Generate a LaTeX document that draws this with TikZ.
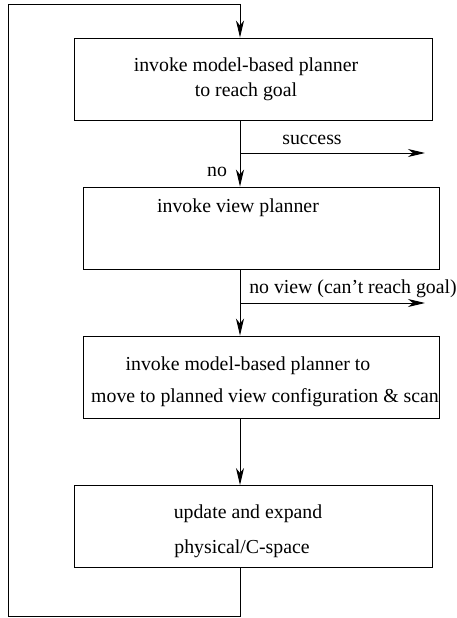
\documentclass[tikz,border=0pt]{standalone}
\usepackage{fontspec}
\setmainfont{Liberation Serif}
\usetikzlibrary{arrows.meta}
\begin{document}
\begin{tikzpicture}[
  x=1pt, y=-1pt,
  font=\fontsize{19.8}{24}\selectfont,
  box/.style={draw, line width=0.9pt, minimum width=#1, minimum height=82pt, inner sep=0pt},
  txt/.style={inner sep=0pt, anchor=base},
  arrow/.style={-{Stealth[length=17pt, width=8pt, inset=5pt]}, line width=0.9pt},
  plain/.style={line width=0.9pt}
]
\useasboundingbox (0,0) rectangle (457,618);

% Boxes
\node[box=358pt] (plan) at (253,79) {};
\node[box=356pt] (view) at (261,228) {};
\node[box=356pt] (move) at (261,377) {};
\node[box=358pt] (update) at (253,526.5) {};

% Box texts
\node[txt] (plantop) at (246,71) {invoke model-based planner};
\node[txt] (planbot) at (246,96) {to reach goal};
\node[txt] (viewtxt) at (238,212) {invoke view planner};
\node[txt] (movetop) at (248,370) {invoke model-based planner to};
\node[txt] (movebot) at (265,402) {move to planned view configuration \& scan};
\node[txt] (updtop) at (248,518) {update and expand};
\node[txt] (updbot) at (242,553) {physical/C-space};

% Coordinates for the loop and exits
\coordinate (loopbot) at (240,616);
\coordinate (loopleft) at (8,616);
\coordinate (looptop) at (8,4);
\coordinate (loopright) at (240,4);
\coordinate (succfrom) at (240,153);
\coordinate (succto) at (425,153);
\coordinate (nvfrom) at (240,303);
\coordinate (nvto) at (425,303);

% Main flow
\draw[arrow] (plan.south -| succfrom) -- (view.north -| succfrom);
\draw[arrow] (view.south -| succfrom) -- (move.north -| succfrom);
\draw[arrow] (move.south -| succfrom) -- (update.north -| succfrom);

% Exits
\draw[arrow] (succfrom) -- (succto);
\draw[arrow] (nvfrom) -- (nvto);
\node[inner sep=0pt] (succlbl) at (312,140) {success};
\node[inner sep=0pt] (nolbl) at (217,172) {no};
\node[inner sep=0pt] (nvlbl) at (353,289) {no view (can't reach goal)};

% Loop back
\draw[plain] (update.south -| loopbot) -- (loopbot) -- (loopleft) -- (looptop) -- (loopright);
\draw[arrow] (loopright) -- (plan.north -| loopright);

\end{tikzpicture}
\end{document}
